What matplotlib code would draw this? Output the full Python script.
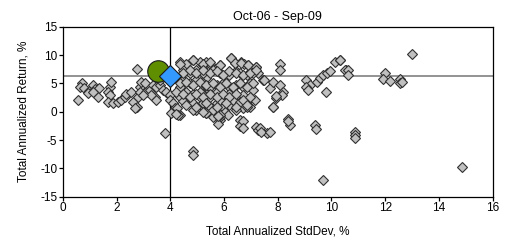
import matplotlib
matplotlib.use("Agg")
import matplotlib.pyplot as plt

plt.rcParams['font.family'] = ['Liberation Sans', 'DejaVu Sans']
plt.rcParams['axes.unicode_minus'] = False

# peer funds: annualized std dev (%) and annualized return (%)
peer_x = [
    2.76, 0.72, 0.62, 0.80, 0.95, 1.12, 1.18, 1.35, 1.32, 0.93, 1.12, 0.56,
    1.74, 1.80, 1.68, 1.74, 1.68, 1.86, 2.05, 2.17, 2.30, 2.36, 2.55,
    2.61, 2.74, 2.68, 2.80, 2.86, 2.92, 3.05,
    2.86, 3.11, 3.23, 3.35, 3.48, 3.42, 3.48, 3.29, 2.98,
    3.60, 3.73, 3.85, 3.98, 3.98, 4.10, 4.16, 4.23, 4.35, 3.60,
    3.79, 4.85, 4.85,
    4.35, 4.60, 4.85, 5.10, 5.34, 4.48, 4.72, 4.97, 5.22, 4.48, 4.72, 4.97,
    5.22, 5.34, 4.35, 4.60, 4.85, 5.10, 5.34, 4.35, 4.60, 4.85, 5.10, 5.34,
    4.97, 5.22, 4.23, 4.29,
    5.34, 5.47, 5.84, 6.27, 6.39, 6.64, 6.76, 6.89, 7.20, 8.08, 8.08, 7.26,
    5.21, 5.59, 5.84, 6.20, 6.45, 6.59, 6.84, 7.08, 7.45, 7.70, 7.83, 8.08,
    8.20, 8.14, 7.95, 7.83, 9.07, 9.20, 9.45, 9.57, 9.69, 9.82, 9.94, 10.13,
    10.31, 10.56, 9.80, 9.07, 9.14,
    5.21, 5.47, 5.72, 5.96, 6.20, 6.45, 6.70, 6.96, 7.08, 5.21, 5.47, 5.72,
    5.96, 6.20, 6.45, 6.70, 6.96, 7.14, 5.21, 5.47, 5.72, 5.96, 6.20, 6.45,
    6.70, 6.96, 5.34, 5.59, 5.84, 6.02, 6.14, 6.45, 6.84, 6.33, 6.59, 5.84,
    6.59, 6.59, 7.20, 7.26, 7.60, 8.39, 8.45, 9.38, 9.42, 9.67,
    10.31, 10.50, 10.62, 10.62, 12.00, 11.93, 12.18, 12.55, 12.55, 12.61,
    12.99, 10.87, 10.87, 10.87, 14.85,
    4.22, 5.10, 4.47, 4.04, 4.22, 5.84, 5.78, 6.70, 6.70, 7.33, 7.39, 7.70,
    7.83, 7.95, 8.39, 4.85, 5.22, 5.59, 5.84, 5.78,
    4.35, 4.85, 5.22, 5.47, 5.84, 6.27, 6.39, 6.64, 6.90, 7.20, 7.50,
    4.47, 4.72, 4.97, 5.22, 5.47, 5.72, 5.96, 6.20, 6.45, 6.70, 6.96, 7.20,
    4.35, 4.60, 4.85, 5.10, 5.34, 5.59, 5.84, 6.08, 6.33, 6.58, 6.84, 7.08,
    4.47, 4.72, 4.97, 5.22, 5.47, 5.72, 5.96, 6.20, 6.45, 6.70, 6.96,
    4.60, 4.97, 5.34, 5.72, 6.08, 6.45, 6.84,
]
peer_y = [
    7.5, 5.0, 4.3, 4.1, 3.7, 4.7, 4.0, 4.2, 2.6, 3.3, 3.5, 2.1,
    4.4, 5.3, 3.5, 2.9, 1.8, 1.5, 1.8, 2.1, 2.6, 3.2, 3.5,
    1.8, 0.9, 0.6, 2.6, 4.4, 5.3, 5.0,
    3.5, 3.5, 3.8, 4.7, 4.4, 2.6, 2.1, 2.9, 2.9,
    4.7, 3.8, 3.5, 2.9, 2.1, 1.5, 0.6, -0.3, -0.6, 5.6,
    -3.8, -7.0, -7.6,
    8.8, 8.5, 9.1, 8.8, 8.5, 7.4, 6.8, 7.4, 6.8, 5.6, 5.0, 5.6,
    4.7, 5.9, 4.4, 3.5, 3.2, 2.6, 3.2, 2.6, 1.8, 1.5, 0.6, -0.3,
    0.3, 1.5, 0.6, -0.6,
    8.8, 8.5, 8.2, 9.4, 8.6, 8.8, 8.5, 8.2, 7.9, 8.5, 7.4, 6.8,
    6.8, 7.4, 6.8, 6.5, 7.1, 6.8, 6.5, 6.8, 5.6, 4.1, 5.3, 4.7,
    3.5, 2.9, 2.4, 0.9, 5.6, 4.7, 5.3, 5.9, 6.5, 6.8, 7.1, 8.7,
    9.1, 7.4, 3.5, 4.4, 3.8,
    5.0, 4.4, 4.7, 5.0, 4.4, 4.7, 4.4, 5.0, 3.8, 3.2, 2.6, 3.5,
    2.9, 3.2, 2.6, 2.9, 2.4, 2.1, 1.5, 0.9, 1.5, 0.9, 1.2, 1.5,
    0.6, 0.9, -0.3, -0.9, -1.5, 0.0, -0.6, 0.3, 0.9, 2.1, 1.8, 2.1,
    -1.5, -2.6, -2.7, -3.3, -3.7, -1.2, -2.4, -2.4, -3.0, -12.0,
    9.2, 7.4, 7.4, 6.5, 6.8, 5.8, 5.5, 5.8, 5.0, 5.3,
    10.2, -3.5, -4.1, -4.7, -9.7,
    3.5, 3.5, 1.9, -0.2, -0.4, -1.0, -2.1, -1.7, -2.8, -2.8, -3.6, -3.6,
    0.8, 2.8, -1.7, 0.3, 0.0, 0.3, -0.6, -0.8,
    8.5, 9.1, 8.5, 8.8, 8.2, 9.4, 8.6, 8.6, 8.2, 7.9, 5.6,
    6.8, 7.4, 6.8, 7.4, 6.8, 7.1, 6.5, 7.1, 6.8, 6.5, 6.8, 7.4,
    5.0, 5.3, 4.7, 5.3, 4.7, 5.0, 4.4, 5.0, 4.4, 5.0, 4.4, 5.0,
    3.2, 2.6, 3.2, 2.6, 3.2, 2.6, 3.2, 2.6, 3.2, 2.1, 2.6,
    1.2, 0.9, 1.5, 0.9, 1.5, 0.9, 1.2,
]

fund_x, fund_y = 3.52, 7.24      # the fund (green circle)
bench_x, bench_y = 4.0, 6.36     # benchmark (blue diamond)

fig = plt.figure(figsize=(5.19, 2.42), dpi=100)
ax = fig.add_axes([0.1214, 0.187, 0.8276, 0.7027])

ax.axvline(bench_x, color='black', lw=0.9, zorder=1)
ax.axhline(bench_y, color='#808080', lw=1.2, zorder=1)

ax.plot(peer_x, peer_y, ls='none', marker='D', ms=4.8, mfc='#c0c0c0',
        mec='#303030', mew=0.8, zorder=2)
ax.plot([fund_x], [fund_y], ls='none', marker='o', ms=15.5, mfc='#5f8f00',
        mec='#1a1a1a', mew=0.8, zorder=3)
ax.plot([bench_x], [bench_y], ls='none', marker='D', ms=11.5, mfc='#3399ff',
        mec='#1a1a1a', mew=0.8, zorder=4)

ax.set_xlim(0, 16)
ax.set_ylim(-15, 15)
ax.set_xticks(range(0, 17, 2))
ax.set_yticks(range(-15, 16, 5))
ax.tick_params(direction='out', length=3, width=0.9, labelsize=8.5, pad=1)
for s in ax.spines.values():
    s.set_linewidth(0.9)

ax.set_title('Oct-06 - Sep-09', fontsize=9, pad=5)
ax.set_xlabel('Total Annualized StdDev, %', fontsize=8.5, labelpad=8)
ax.set_ylabel('Total Annualized Return, %', fontsize=8.5, labelpad=8)

fig.savefig('out.png', dpi=100)
